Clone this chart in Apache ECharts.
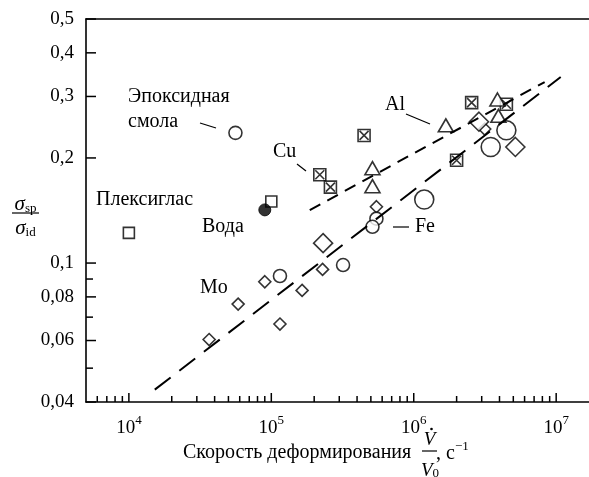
<!DOCTYPE html>
<html><head><meta charset="utf-8">
<script src="https://cdn.jsdelivr.net/npm/echarts@6/dist/echarts.min.js"></script>
<style>html,body{margin:0;padding:0;background:#fff}#c{width:589px;height:477px}</style>
</head><body><div id="c"></div>
<script>
// ---- tick values / labels ----
const xMajorTicks = [1e4, 1e5, 1e6, 1e7];
const xMajorExp = ['4', '5', '6', '7'];
const xMinorTicks = [6e3, 7e3, 8e3, 9e3,
  2e4, 3e4, 4e4, 5e4, 6e4, 7e4, 8e4, 9e4,
  2e5, 3e5, 4e5, 5e5, 6e5, 7e5, 8e5, 9e5,
  2e6, 3e6, 4e6, 5e6, 6e6, 7e6, 8e6, 9e6];
const yMajorTicks = [0.04, 0.06, 0.08, 0.1, 0.2, 0.3, 0.4, 0.5];
const yMajorLabels = ['0,04', '0,06', '0,08', '0,1', '0,2', '0,3', '0,4', '0,5'];
const yMinorTicks = [0.05, 0.07, 0.09];

// ---- data (strain rate, sigma_sp/sigma_id) ----
const circlesSmall = [[5.6e4, 0.236], [5.47e5, 0.134], [5.13e5, 0.127], [3.19e5, 0.0987], [1.15e5, 0.0918]];
const circlesLarge = [[4.47e6, 0.240], [3.47e6, 0.215], [1.185e6, 0.152]];
const filledCircles = [[9.0e4, 0.142]];
const squares = [[1e4, 0.122], [1.0e5, 0.150]];
const crossedSquares = [[2.55e6, 0.288], [4.47e6, 0.285], [2.0e6, 0.197], [4.48e5, 0.232], [2.19e5, 0.179], [2.60e5, 0.165]];
const triangles = [[3.87e6, 0.294], [3.93e6, 0.264], [1.68e6, 0.248], [5.13e5, 0.187], [5.13e5, 0.166]];
const diamondsSmall = [[3.15e6, 0.242], [5.47e5, 0.145], [2.29e5, 0.0959], [1.645e5, 0.0835], [9.0e4, 0.0884], [5.85e4, 0.0763], [1.15e5, 0.0669], [3.66e4, 0.0604]];
const diamondsLarge = [[2.87e6, 0.254], [2.31e5, 0.114], [5.17e6, 0.215]];
const upperFit = [[1.862e5, 0.1418], [8.30e6, 0.330]];
const lowerFit = [[1.52e4, 0.0434], [1.076e7, 0.341]];

const X_MIN = 5000, X_MAX = 1.7e7, Y_MIN = 0.04, Y_MAX = 0.5;
const SERIF = '"Liberation Serif", "DejaVu Serif", serif';

const chart = echarts.init(document.getElementById('c'), null, {renderer: 'canvas'});

function txt(x, y, text, size, align, extra) {
  return Object.assign({
    type: 'text', x: x, y: y,
    style: {
      text: text, fill: '#000', font: size + 'px ' + SERIF,
      align: align, verticalAlign: 'middle', textAlign: align, textVerticalAlign: 'middle'
    }
  }, extra || {});
}

function renderAxes(params, api) {
  const ch = [];
  const ls = {stroke: '#000', lineWidth: 1.5};
  xMajorTicks.forEach(function (v, i) {
    const p = api.coord([v, Y_MIN]);
    ch.push({type: 'line', shape: {x1: p[0], y1: p[1], x2: p[0], y2: p[1] - 9}, style: ls});
    ch.push({type: 'text', x: p[0], y: p[1] + 24, style: {
      text: '{b|10}{s|' + xMajorExp[i] + '}',
      align: 'center', verticalAlign: 'middle', textAlign: 'center', textVerticalAlign: 'middle',
      rich: {
        b: {fontSize: 19, fontFamily: SERIF, fill: '#000', lineHeight: 24, verticalAlign: 'bottom'},
        s: {fontSize: 13, fontFamily: SERIF, fill: '#000', lineHeight: 14, verticalAlign: 'top'}
      }
    }});
  });
  xMinorTicks.forEach(function (v) {
    const p = api.coord([v, Y_MIN]);
    ch.push({type: 'line', shape: {x1: p[0], y1: p[1], x2: p[0], y2: p[1] - 6}, style: ls});
  });
  yMajorTicks.forEach(function (v, i) {
    const p = api.coord([X_MIN, v]);
    ch.push({type: 'line', shape: {x1: p[0], y1: p[1], x2: p[0] + 10, y2: p[1]}, style: ls});
    ch.push({type: 'text', x: p[0] - 12, y: p[1], style: {
      text: yMajorLabels[i], fill: '#000', font: '19px ' + SERIF,
      align: 'right', verticalAlign: 'middle', textAlign: 'right', textVerticalAlign: 'middle'
    }});
  });
  yMinorTicks.forEach(function (v) {
    const p = api.coord([X_MIN, v]);
    ch.push({type: 'line', shape: {x1: p[0], y1: p[1], x2: p[0] + 7, y2: p[1]}, style: ls});
  });
  return {type: 'group', children: ch};
}

const hollow = {color: '#fff', borderColor: '#000', borderWidth: 1.6};
const crossPath = 'path://M0 0H12V12H0Z M1.5 1.5L10.5 10.5 M10.5 1.5L1.5 10.5';

const axisCommon = {
  axisTick: {show: false}, axisLabel: {show: false}, splitLine: {show: false},
  minorTick: {show: false}, minorSplitLine: {show: false}
};

const option = {
  animation: false,
  backgroundColor: '#fff',
  grid: {left: 86, top: 19, right: 0, bottom: 75, containLabel: false},
  xAxis: [
    Object.assign({type: 'log', logBase: 10, min: X_MIN, max: X_MAX, position: 'bottom',
      axisLine: {show: true, onZero: false, lineStyle: {color: '#000', width: 1.6}}}, axisCommon),
    Object.assign({type: 'log', logBase: 10, min: X_MIN, max: X_MAX, position: 'top',
      axisLine: {show: true, onZero: false, lineStyle: {color: '#000', width: 1.6}}}, axisCommon)
  ],
  yAxis: Object.assign({type: 'log', logBase: 10, min: Y_MIN, max: Y_MAX,
    axisLine: {show: true, onZero: false, lineStyle: {color: '#000', width: 1.6}}}, axisCommon),
  series: [
    {type: 'custom', name: 'axes', silent: true, renderItem: renderAxes, data: [[1e5, 0.1]], clip: false, z: 5},
    {type: 'scatter', name: 'Mo small', data: diamondsSmall, symbol: 'diamond', symbolSize: 12, itemStyle: hollow, z: 2},
    {type: 'scatter', name: 'Mo large', data: diamondsLarge, symbol: 'diamond', symbolSize: 19, itemStyle: hollow, z: 2},
    {type: 'scatter', name: 'Fe small', data: circlesSmall, symbol: 'circle', symbolSize: 13, itemStyle: hollow, z: 2},
    {type: 'scatter', name: 'Fe large', data: circlesLarge, symbol: 'circle', symbolSize: 19, itemStyle: hollow, z: 2},
    {type: 'scatter', name: 'Вода', data: filledCircles, symbol: 'circle', symbolSize: 12, itemStyle: {color: '#000', borderColor: '#000', borderWidth: 1}, z: 2},
    {type: 'scatter', name: 'Плексиглас', data: squares, symbol: 'rect', symbolSize: 11, itemStyle: hollow, z: 1},
    {type: 'scatter', name: 'Cu', data: crossedSquares, symbol: crossPath, symbolSize: 12, itemStyle: hollow, z: 2},
    {type: 'scatter', name: 'Al', data: triangles, symbol: 'triangle', symbolSize: [15, 13], itemStyle: hollow, z: 2},
    {type: 'line', name: 'fit Al/Cu', data: upperFit, symbol: 'none', lineStyle: {color: '#000', width: 2, type: [12, 8]}, z: 3},
    {type: 'line', name: 'fit Fe/Mo', data: lowerFit, symbol: 'none', lineStyle: {color: '#000', width: 2, type: [20, 11]}, z: 3}
  ],
  graphic: [
    txt(128, 97, 'Эпоксидная', 20, 'left'),
    txt(128, 122, 'смола', 20, 'left'),
    {type: 'line', shape: {x1: 200, y1: 123, x2: 216, y2: 128}, style: {stroke: '#000', lineWidth: 1.2}},
    txt(273, 152, 'Cu', 20, 'left'),
    {type: 'line', shape: {x1: 297, y1: 164, x2: 306, y2: 171}, style: {stroke: '#000', lineWidth: 1.2}},
    txt(96, 200, 'Плексиглас', 20, 'left'),
    txt(202, 227, 'Вода', 20, 'left'),
    txt(385, 105, 'Al', 20, 'left'),
    {type: 'line', shape: {x1: 406, y1: 114, x2: 430, y2: 124}, style: {stroke: '#000', lineWidth: 1.2}},
    txt(415, 227, 'Fe', 20, 'left'),
    {type: 'line', shape: {x1: 393, y1: 227, x2: 409, y2: 227}, style: {stroke: '#000', lineWidth: 1.2}},
    txt(200, 288, 'Mo', 20, 'left'),
    // y axis title: sigma_sp / sigma_id
    {type: 'text', x: 25.5, y: 204, style: {
      text: '{i|σ}{u|sp}', align: 'center', verticalAlign: 'middle', textAlign: 'center', textVerticalAlign: 'middle',
      rich: {i: {fontSize: 21, fontStyle: 'italic', fontFamily: SERIF, fill: '#000', lineHeight: 22, verticalAlign: 'bottom'},
             u: {fontSize: 13, fontFamily: SERIF, fill: '#000', lineHeight: 14, verticalAlign: 'bottom'}}}},
    {type: 'line', shape: {x1: 12, y1: 213, x2: 39, y2: 213}, style: {stroke: '#000', lineWidth: 1.2}},
    {type: 'text', x: 25.5, y: 228, style: {
      text: '{i|σ}{u|id}', align: 'center', verticalAlign: 'middle', textAlign: 'center', textVerticalAlign: 'middle',
      rich: {i: {fontSize: 21, fontStyle: 'italic', fontFamily: SERIF, fill: '#000', lineHeight: 22, verticalAlign: 'bottom'},
             u: {fontSize: 13, fontFamily: SERIF, fill: '#000', lineHeight: 14, verticalAlign: 'bottom'}}}},
    // x axis title
    txt(183, 453, 'Скорость деформирования', 20, 'left'),
    {type: 'text', x: 429.5, y: 440, style: {text: 'V', fill: '#000', font: 'italic 19px ' + SERIF,
      align: 'center', verticalAlign: 'middle', textAlign: 'center', textVerticalAlign: 'middle'}},
    {type: 'circle', shape: {cx: 431.5, cy: 429, r: 1.3}, style: {fill: '#000'}},
    {type: 'line', shape: {x1: 422, y1: 451, x2: 437, y2: 451}, style: {stroke: '#000', lineWidth: 1.2}},
    {type: 'text', x: 430, y: 470, style: {
      text: '{i|V}{u|0}', align: 'center', verticalAlign: 'middle', textAlign: 'center', textVerticalAlign: 'middle',
      rich: {i: {fontSize: 19, fontStyle: 'italic', fontFamily: SERIF, fill: '#000', lineHeight: 20, verticalAlign: 'bottom'},
             u: {fontSize: 13, fontFamily: SERIF, fill: '#000', lineHeight: 14, verticalAlign: 'bottom'}}}},
    {type: 'text', x: 436, y: 452, style: {
      text: '{t|, c}{s|−1}', align: 'left', verticalAlign: 'middle', textAlign: 'left', textVerticalAlign: 'middle',
      rich: {t: {fontSize: 20, fontFamily: SERIF, fill: '#000', lineHeight: 24, verticalAlign: 'bottom'},
             s: {fontSize: 13, fontFamily: SERIF, fill: '#000', lineHeight: 14, verticalAlign: 'top'}}}}
  ]
};
chart.setOption(option);
</script>
</body></html>
